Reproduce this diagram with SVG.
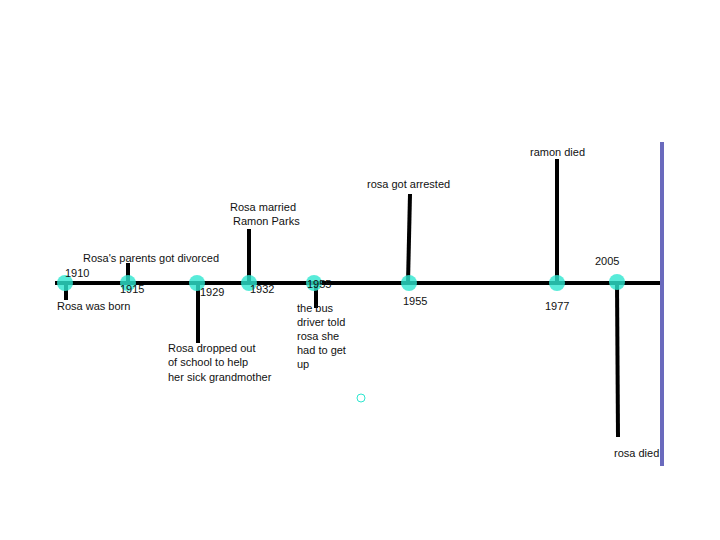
<svg xmlns="http://www.w3.org/2000/svg" width="720" height="540" viewBox="0 0 720 540">
<style>
.t{font-family:"Liberation Sans",Arial,sans-serif;font-size:11px;fill:#111}
.stem{stroke:#000;stroke-width:4;fill:none}
.dot{fill:#2ee6cf;fill-opacity:0.8}
</style>
<rect width="720" height="540" fill="#fff"/>
<g id="axis">
<line x1="55" y1="283" x2="662" y2="283" stroke="#000" stroke-width="4"/>
<line x1="662" y1="142" x2="662" y2="466" stroke="#6a6abd" stroke-width="4"/>
</g>
<g id="connectors">
<line class="stem" x1="66" y1="283" x2="66" y2="300"/>
<line class="stem" x1="128" y1="283" x2="128" y2="263"/>
<line class="stem" x1="198" y1="283" x2="198" y2="343"/>
<line class="stem" x1="249" y1="283" x2="249" y2="229"/>
<line class="stem" x1="316" y1="283" x2="316" y2="308"/>
<line class="stem" x1="408" y1="283" x2="410" y2="194"/>
<line class="stem" x1="557" y1="283" x2="557" y2="159"/>
<line class="stem" x1="617" y1="283" x2="618" y2="437"/>
</g>
<g id="e1910">
<circle class="dot" cx="65" cy="283" r="8"/>
<text class="t" x="65" y="277">1910</text>
<text class="t" x="57" y="310">Rosa was born</text>
</g>
<g id="e1915">
<circle class="dot" cx="128" cy="283" r="8"/>
<text class="t" x="83" y="262">Rosa's parents got divorced</text>
<text class="t" x="120" y="293">1915</text>
</g>
<g id="e1929">
<circle class="dot" cx="197" cy="283" r="8"/>
<text class="t" x="200" y="296">1929</text>
<text class="t" x="168" y="352">Rosa dropped out</text>
<text class="t" x="168" y="366">of school to help</text>
<text class="t" x="168" y="381">her sick grandmother</text>
</g>
<g id="e1932">
<circle class="dot" cx="249" cy="283" r="8"/>
<text class="t" x="230" y="211">Rosa married</text>
<text class="t" x="233" y="225">Ramon Parks</text>
<text class="t" x="250" y="293">1932</text>
</g>
<g id="e1955a">
<circle class="dot" cx="314" cy="283" r="8"/>
<text class="t" x="307" y="288">1955</text>
<text class="t" x="297" y="312">the bus</text>
<text class="t" x="297" y="326">driver told</text>
<text class="t" x="297" y="340">rosa she</text>
<text class="t" x="297" y="354">had to get</text>
<text class="t" x="297" y="368">up</text>
</g>
<g id="e1955b">
<circle class="dot" cx="409" cy="283" r="8"/>
<text class="t" x="367" y="188">rosa got arrested</text>
<text class="t" x="403" y="305">1955</text>
</g>
<g id="e1977">
<circle class="dot" cx="557" cy="283" r="8"/>
<text class="t" x="530" y="156">ramon died</text>
<text class="t" x="545" y="310">1977</text>
</g>
<g id="e2005">
<circle class="dot" cx="617" cy="282" r="8"/>
<text class="t" x="595" y="265">2005</text>
<text class="t" x="614" y="457">rosa died</text>
</g>
<g id="mark">
<circle cx="361" cy="398" r="4" fill="none" stroke="#2ee6cf" stroke-width="1"/>
</g>
</svg>
